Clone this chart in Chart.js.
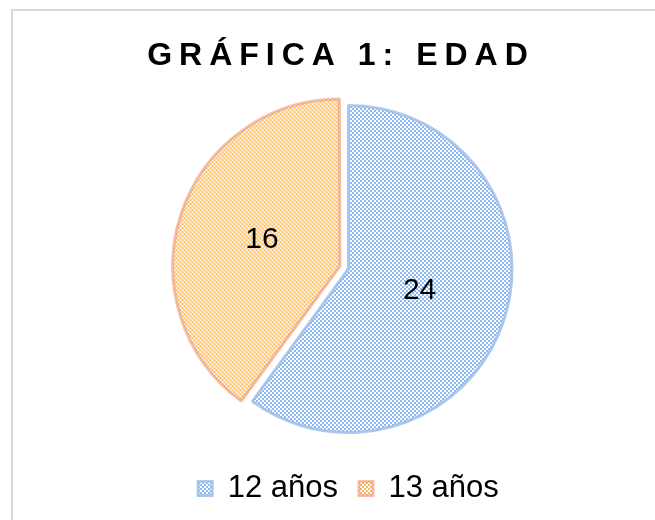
<!DOCTYPE html>
<html>
<head>
<meta charset="utf-8">
<script src="https://cdn.jsdelivr.net/npm/chart.js@4.4.1/dist/chart.umd.min.js"></script>
<style>
  html, body { margin: 0; padding: 0; background: #fff; }
  #wrap { width: 655px; height: 520px; position: relative; }
</style>
</head>
<body>
<div id="wrap"><canvas id="myChart" width="655" height="520"></canvas></div>
<script>
var etiquetas = ['12 años', '13 años'];
var valores = [24, 16];
var titulo = 'GRÁFICA 1: EDAD';

// checkered fill like the excel pattern
function patron(color) {
    var c = document.createElement('canvas');
    c.width = 16; c.height = 16;
    var g = c.getContext('2d');
    g.fillStyle = '#ffffff';
    g.fillRect(0, 0, 16, 16);
    g.fillStyle = color;
    for (var i = 0; i < 8; i++) {
        for (var j = 0; j < 8; j++) {
            if ((i + j) % 2 == 0) g.fillRect(i * 2, j * 2, 2, 2);
        }
    }
    // white spots
    g.fillStyle = '#ffffff';
    g.fillRect(4, 2, 2, 2); g.fillRect(2, 4, 2, 2); g.fillRect(6, 4, 2, 2); g.fillRect(4, 6, 2, 2);
    g.fillRect(12, 10, 2, 2); g.fillRect(10, 12, 2, 2); g.fillRect(14, 12, 2, 2); g.fillRect(12, 14, 2, 2);
    return g.createPattern(c, 'repeat');
}

var azul = patron('#8dbaf6');
var naranja = patron('#fbb752');

var marco = {
    id: 'marco',
    beforeDraw: function (chart) {
        var ctx = chart.ctx;
        ctx.save();
        ctx.fillStyle = '#ffffff';
        ctx.fillRect(0, 0, chart.width, chart.height);
        ctx.strokeStyle = '#d9d9d9';
        ctx.lineWidth = 2;
        ctx.strokeRect(12, 10, chart.width + 20, chart.height + 20);
        ctx.restore();
    },
    afterDraw: function (chart) {
        var ctx = chart.ctx;
        ctx.save();
        ctx.fillStyle = '#000000';
        ctx.font = 'bold 32px "Liberation Sans", Arial, sans-serif';
        ctx.letterSpacing = '7px';
        ctx.textAlign = 'center';
        ctx.textBaseline = 'middle';
        ctx.fillText(titulo, 341, 56);
        ctx.letterSpacing = '0px';
        ctx.font = '30px "Liberation Sans", Arial, sans-serif';
        var meta = chart.getDatasetMeta(0);
        meta.data.forEach(function (arc, i) {
            var a = (arc.startAngle + arc.endAngle) / 2;
            var d = arc.outerRadius * 0.47 + (i == 1 ? 12 : 0);
            ctx.fillText(valores[i], arc.x + Math.cos(a) * d - 2, arc.y + Math.sin(a) * d - 2);
        });
        ctx.restore();
    }
};

const ctx = document.getElementById('myChart');
new Chart(ctx, {
    type: 'pie',
    data: {
        labels: etiquetas,
        datasets: [{
            data: valores,
            backgroundColor: [azul, naranja],
            borderColor: ['rgba(160,190,232,0.85)', 'rgba(236,150,120,0.6)'],
            borderWidth: 3,
            offset: [0, 36],
            hoverOffset: 0
        }]
    },
    options: {
        responsive: false,
        animation: false,
        layout: { padding: { top: 86, left: 42, right: 0, bottom: 6 } },
        plugins: {
            title: { display: false },
            tooltip: { enabled: false },
            legend: {
                position: 'bottom',
                labels: {
                    font: { family: '"Liberation Sans", Arial, sans-serif', size: 31 },
                    color: '#000000',
                    boxWidth: 14,
                    boxHeight: 14,
                    padding: 21
                }
            }
        }
    },
    plugins: [marco]
});
</script>
</body>
</html>
